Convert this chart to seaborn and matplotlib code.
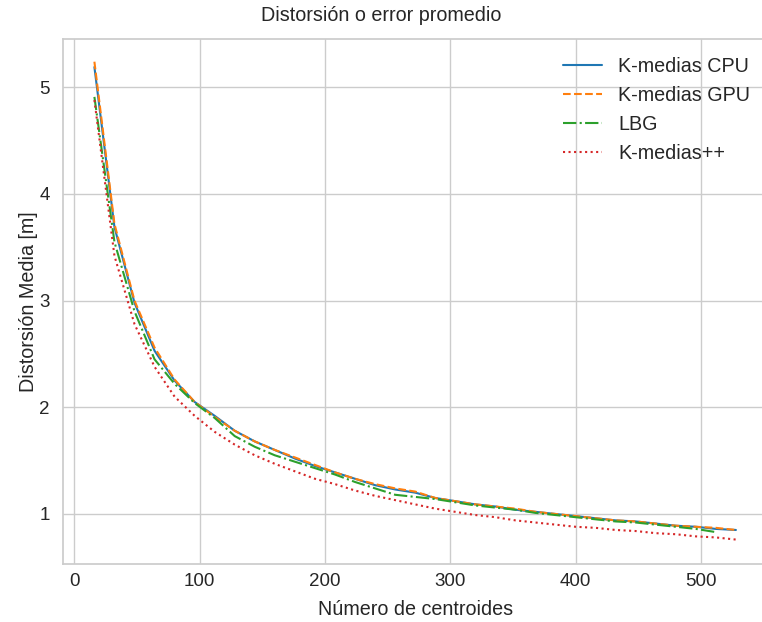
import numpy as np
import pandas as pd
import matplotlib
matplotlib.use("Agg")
import matplotlib.pyplot as plt
import seaborn as sns

centroides = [16, 32, 48, 64, 80, 96, 112, 128, 144, 160, 176, 192, 208, 224, 240, 256,
              272, 288, 304, 320, 336, 352, 368, 384, 400, 416, 432, 448, 464, 480, 496, 512, 528]

kmedias_cpu = [5.19, 3.69, 2.98, 2.53, 2.25, 2.05, 1.92, 1.78, 1.68, 1.60, 1.52, 1.45, 1.39, 1.33,
               1.27, 1.23, 1.20, 1.15, 1.12, 1.09, 1.07, 1.04, 1.02, 1.00, 0.98, 0.96, 0.94, 0.93,
               0.91, 0.89, 0.88, 0.86, 0.85]
kmedias_gpu = [5.24, 3.72, 3.00, 2.56, 2.26, 2.05, 1.91, 1.78, 1.68, 1.60, 1.53, 1.46, 1.39, 1.33,
               1.28, 1.24, 1.21, 1.15, 1.12, 1.09, 1.07, 1.05, 1.02, 1.00, 0.98, 0.96, 0.94, 0.93,
               0.91, 0.89, 0.88, 0.87, 0.85]
lbg = [4.91, 3.55, 2.90, 2.45, 2.22, 2.04, 1.90, 1.73, 1.63, 1.55, 1.49, 1.43, 1.37, 1.30,
       1.24, 1.18, 1.16, 1.14, 1.11, 1.08, 1.06, 1.04, 1.01, 0.99, 0.97, 0.95, 0.93, 0.92,
       0.90, 0.88, 0.86, 0.83]
kmedias_pp = [4.88, 3.42, 2.78, 2.38, 2.10, 1.92, 1.77, 1.65, 1.55, 1.47, 1.40, 1.33, 1.28, 1.22,
              1.17, 1.13, 1.09, 1.05, 1.02, 0.99, 0.97, 0.94, 0.92, 0.90, 0.88, 0.87, 0.85, 0.84,
              0.82, 0.81, 0.79, 0.78, 0.76]

x_ticks = [0, 100, 200, 300, 400, 500]
y_ticks = [1, 2, 3, 4, 5]

sns.set_theme(style="whitegrid")
plt.rcParams['font.family'] = ['Liberation Sans', 'DejaVu Sans']

fig = plt.figure(figsize=(7.62, 6.22), dpi=100)
W, H = 762, 622
ax_left, ax_right, ax_top, ax_bottom = 62.7, 768.0, 39.3, 564.0
ax = fig.add_axes([ax_left / W, 1 - ax_bottom / H, (ax_right - ax_left) / W, (ax_bottom - ax_top) / H])

series = [
    ("K-medias CPU", centroides, kmedias_cpu, "#1f77b4", "-"),
    ("K-medias GPU", centroides, kmedias_gpu, "#ff7f0e", "--"),
    ("LBG", centroides[:len(lbg)], lbg, "#2ca02c", "-."),
    ("K-medias++", centroides, kmedias_pp, "#d62728", ":"),
]
for name, xs, ys, col, ls in series:
    df = pd.DataFrame({"x": xs, "y": ys})
    sns.lineplot(data=df, x="x", y="y", ax=ax, color=col, linestyle=ls, label=name, linewidth=1.5)

ax.set_xlim(-9.3, 553.6)
ax.set_ylim(0.531, 5.45)
ax.set_xticks(x_ticks)
ax.set_yticks(y_ticks)
ax.set_title("Distorsión o error promedio", fontsize=14.2, color="#262626",
             x=(381 - ax_left) / (ax_right - ax_left), pad=13)
ax.set_xlabel("Número de centroides", fontsize=14.2, labelpad=7)
ax.set_ylabel("Distorsión Media [m]", fontsize=14.2, labelpad=1)
ax.tick_params(labelsize=13.5)
ax.tick_params(axis="x", pad=0.8)
leg = ax.legend(loc="upper right", frameon=False, fontsize=14.2)
fig.savefig("out.png", dpi=100)
